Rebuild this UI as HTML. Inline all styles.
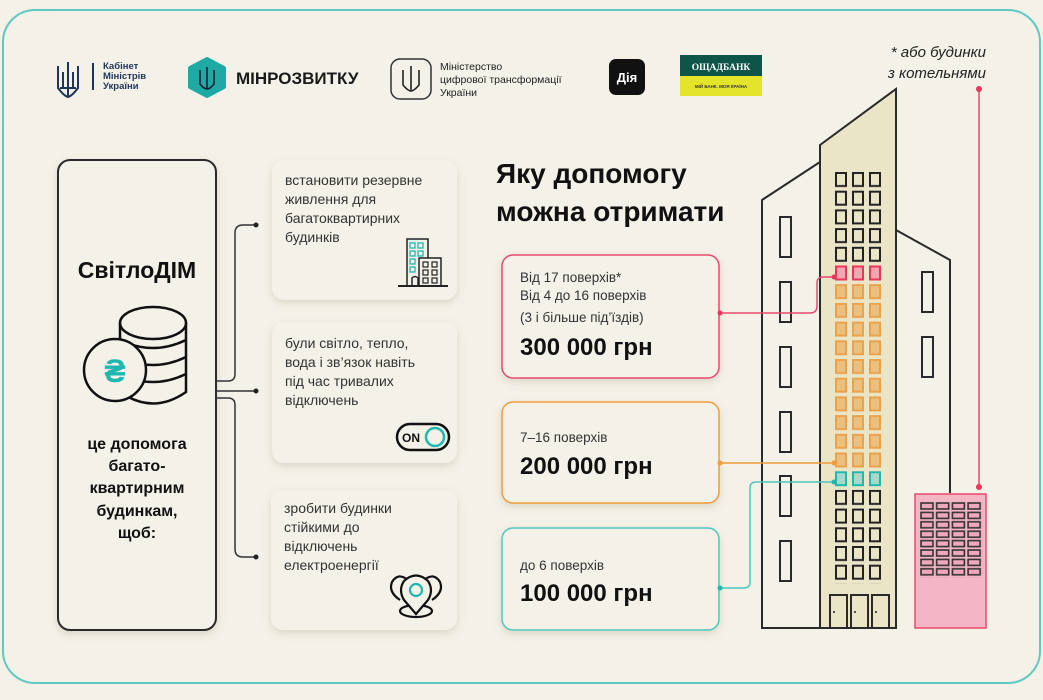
<!DOCTYPE html>
<html><head><meta charset="utf-8"><style>
html,body{margin:0;padding:0;background:#f4f1e8;}
svg{display:block;font-family:"Liberation Sans","DejaVu Sans",sans-serif;}
</style></head><body>
<svg width="1043" height="700" viewBox="0 0 1043 700" xmlns="http://www.w3.org/2000/svg">
<defs>
<filter id="sh" x="-20%" y="-20%" width="140%" height="140%"><feDropShadow dx="0" dy="3" stdDeviation="4" flood-color="#8a7f5a" flood-opacity="0.25"/></filter>
<pattern id="wb" patternUnits="userSpaceOnUse" x="835" y="172" width="17" height="18.7"><rect x="1" y="1" width="10" height="13" fill="none" stroke="#222" stroke-width="2"/></pattern>
<pattern id="wp" patternUnits="userSpaceOnUse" x="835" y="172" width="17" height="18.7"><rect x="1" y="1" width="10" height="13" fill="#f0a8b0" stroke="#e8365c" stroke-width="2"/></pattern>
<pattern id="wo" patternUnits="userSpaceOnUse" x="835" y="172" width="17" height="18.7"><rect x="1" y="1" width="10" height="13" fill="#e9c080" stroke="#eca24a" stroke-width="2"/></pattern>
<pattern id="wt" patternUnits="userSpaceOnUse" x="835" y="172" width="17" height="18.7"><rect x="1" y="1" width="10" height="13" fill="#a8d8c8" stroke="#1fb8b0" stroke-width="2"/></pattern>
<pattern id="wk" patternUnits="userSpaceOnUse" x="920" y="502" width="15.7" height="9.4"><rect x="1" y="1" width="12" height="6" fill="#f0a8bd" stroke="#333" stroke-width="1.6"/></pattern>
</defs>
<rect width="1043" height="700" fill="#f4f1e8"/>
<rect x="3" y="10" width="1037" height="673" rx="32" fill="none" stroke="#5fcac4" stroke-width="2"/>

<!-- logos -->
<g stroke="#1f3559" stroke-width="2" fill="none">
<path d="M58 66 L58 88 Q64 96 68 97 Q72 96 78 88 L78 66 M68 62 L68 97 M63 72 L63 88 M73 72 L73 88 M60 88 L76 88"/>
<line x1="93" y1="63" x2="93" y2="90"/>
</g>
<text x="103" y="69" font-size="9.5" font-weight="bold" fill="#1f3559">Кабінет</text>
<text x="103" y="79" font-size="9.5" font-weight="bold" fill="#1f3559">Міністрів</text>
<text x="103" y="89" font-size="9.5" font-weight="bold" fill="#1f3559">України</text>
<polygon points="207,59 224,68 224,87 207,96 190,87 190,68" fill="#1fa9a5" stroke="#1fa9a5" stroke-width="4" stroke-linejoin="round"/>
<path d="M200 70 L200 84 Q204 89 207 89 Q210 89 214 84 L214 70 M207 67 L207 89" stroke="#123" stroke-width="1.6" fill="none"/>
<text x="236" y="84" font-size="17" font-weight="bold" fill="#1a1a1a">МІНРОЗВИТКУ</text>
<rect x="391" y="59" width="40" height="40" rx="9" fill="none" stroke="#333" stroke-width="1.5"/>
<path d="M403 70 L403 85 Q408 91 411 91 Q414 91 419 85 L419 70 M411 66 L411 91" stroke="#222" stroke-width="1.6" fill="none"/>
<text x="440" y="70" font-size="10.5" fill="#222">Міністерство</text>
<text x="440" y="83" font-size="10.5" fill="#222">цифрової трансформації</text>
<text x="440" y="96" font-size="10.5" fill="#222">України</text>
<rect x="609" y="59" width="36" height="36" rx="7" fill="#111"/>
<text x="627" y="82" font-size="13" font-weight="bold" fill="#fff" text-anchor="middle">Дія</text>
<rect x="680" y="55" width="82" height="21" fill="#0d5548"/>
<rect x="680" y="76" width="82" height="20" fill="#e4e52a"/>
<text x="721" y="70" font-size="9.5" font-family="Liberation Serif,serif" font-weight="bold" fill="#fff" text-anchor="middle">ОЩАДБАНК</text>
<text x="721" y="88" font-size="4.5" font-weight="bold" fill="#333" text-anchor="middle">МІЙ БАНК. МОЯ КРАЇНА</text>

<!-- footnote -->
<text x="986" y="57" font-size="15" font-style="italic" fill="#222" text-anchor="end">* або будинки</text>
<text x="986" y="78" font-size="15" font-style="italic" fill="#222" text-anchor="end">з котельнями</text>

<!-- left box -->
<rect x="58" y="160" width="158" height="470" rx="12" fill="#f4f1e8" stroke="#2a2a2a" stroke-width="2" filter="url(#sh)"/>
<text x="137" y="278" font-size="23" font-weight="bold" fill="#111" text-anchor="middle">СвітлоДІМ</text>
<!-- coins -->
<g stroke="#111" stroke-width="2.5" fill="#f4f1e8">
<path d="M120 323 L120 392 Q153 415 186 392 L186 323"/>
<path d="M120 340 Q153 356 186 340 M120 357 Q153 373 186 357 M120 374 Q153 390 186 374"/>
<ellipse cx="153" cy="323" rx="33" ry="16"/>
<circle cx="115" cy="370" r="31"/>
</g>
<text x="115" y="382" font-size="32" font-weight="bold" fill="#1fb8b0" text-anchor="middle">₴</text>
<g font-size="16" font-weight="bold" fill="#111" text-anchor="middle">
<text x="137" y="449">це допомога</text>
<text x="137" y="471">багато-</text>
<text x="137" y="493">квартирним</text>
<text x="137" y="516">будинкам,</text>
<text x="137" y="538">щоб:</text>
</g>

<!-- bracket -->
<g stroke="#333" stroke-width="1.5" fill="none">
<path d="M216 381 L228 381 Q235 381 235 374 L235 233 Q235 225 243 225 L256 225"/>
<path d="M216 391 L256 391"/>
<path d="M216 398 L228 398 Q235 398 235 405 L235 549 Q235 557 243 557 L256 557"/>
</g>
<circle cx="256" cy="225" r="2.5" fill="#222"/><circle cx="256" cy="391" r="2.5" fill="#222"/><circle cx="256" cy="557" r="2.5" fill="#222"/>

<!-- cards -->
<g fill="#f4f1e8" filter="url(#sh)">
<rect x="272" y="160" width="185" height="140" rx="12"/>
<rect x="272" y="322" width="185" height="141" rx="12"/>
<rect x="271" y="490" width="186" height="140" rx="12"/>
</g>
<g font-size="14" fill="#333">
<text x="285" y="185">встановити резервне</text>
<text x="285" y="204">живлення для</text>
<text x="285" y="223">багатоквартирних</text>
<text x="285" y="242">будинків</text>
<text x="285" y="348">були світло, тепло,</text>
<text x="285" y="367">вода і зв’язок навіть</text>
<text x="285" y="386">під час тривалих</text>
<text x="285" y="405">відключень</text>
<text x="284" y="513">зробити будинки</text>
<text x="284" y="532">стійкими до</text>
<text x="284" y="551">відключень</text>
<text x="284" y="570">електроенергії</text>
</g>
<!-- building icon -->
<g stroke="#222" stroke-width="1.5" fill="none">
<rect x="407" y="239" width="21" height="47"/>
<rect x="419" y="258" width="22" height="28" fill="#f4f1e8"/>
<line x1="398" y1="286" x2="448" y2="286" stroke-width="2"/>
<path d="M412 286 L412 278 Q415 275 418 278 L418 286"/>
</g>
<g stroke="#1fb8b0" stroke-width="1.3" fill="none">
<rect x="410" y="243" width="5" height="5"/><rect x="418" y="243" width="5" height="5"/>
<rect x="410" y="251" width="5" height="5"/><rect x="418" y="251" width="5" height="5"/>
<rect x="410" y="259" width="5" height="5"/><rect x="410" y="267" width="5" height="5"/>
</g>
<g stroke="#222" stroke-width="1.2" fill="none">
<rect x="423" y="262" width="5" height="5"/><rect x="432" y="262" width="5" height="5"/>
<rect x="423" y="270" width="5" height="5"/><rect x="432" y="270" width="5" height="5"/>
<rect x="423" y="278" width="5" height="5"/><rect x="432" y="278" width="5" height="5"/>
</g>
<!-- toggle -->
<rect x="397" y="424" width="52" height="26" rx="13" fill="none" stroke="#111" stroke-width="2.5"/>
<text x="411" y="442" font-size="12" font-weight="bold" fill="#111" text-anchor="middle">ON</text>
<circle cx="435" cy="437" r="9" fill="none" stroke="#1fb8b0" stroke-width="2.5"/>
<!-- location icon -->
<g stroke="#111" stroke-width="2.2" fill="#f4f1e8">
<path d="M400 600 Q388 592 392 582 Q398 572 408 580"/>
<path d="M432 600 Q444 592 440 582 Q434 572 424 580"/>
<ellipse cx="416" cy="611" rx="16" ry="6"/>
<path d="M416 614 L404 600 Q398 590 404 581 Q416 570 428 581 Q434 590 428 600 Z"/>
</g>
<circle cx="416" cy="590" r="6" fill="none" stroke="#1fb8b0" stroke-width="2.2"/>

<!-- heading -->
<text x="496" y="183" font-size="28" font-weight="bold" fill="#111">Яку допомогу</text>
<text x="496" y="221" font-size="28" font-weight="bold" fill="#111">можна отримати</text>

<!-- price cards -->
<rect x="502" y="255" width="217" height="123" rx="11" fill="#f4f1e8" stroke="#e84a6e" stroke-width="1.5" filter="url(#sh)"/>
<rect x="502" y="402" width="217" height="101" rx="11" fill="#f4f1e8" stroke="#ee9c3c" stroke-width="1.5" filter="url(#sh)"/>
<rect x="502" y="528" width="217" height="102" rx="11" fill="#f4f1e8" stroke="#4fc6c0" stroke-width="1.5" filter="url(#sh)"/>
<g font-size="13.5" fill="#333">
<text x="520" y="282">Від 17 поверхів*</text>
<text x="520" y="300">Від 4 до 16 поверхів</text>
<text x="520" y="322">(3 і більше під’їздів)</text>
<text x="520" y="442">7–16 поверхів</text>
<text x="520" y="570">до 6 поверхів</text>
</g>
<g font-size="24" font-weight="bold" fill="#111">
<text x="520" y="355">300 000 грн</text>
<text x="520" y="474">200 000 грн</text>
<text x="520" y="601">100 000 грн</text>
</g>

<!-- buildings -->
<path d="M820 162 L762 200 L762 628 L820 628" fill="none" stroke="#2a2a2a" stroke-width="2"/>
<path d="M896 230 L950 260 L950 493" fill="none" stroke="#2a2a2a" stroke-width="2"/>
<path d="M820 145 L896 89 L896 628 L820 628 Z" fill="#ebe5c8" stroke="#2a2a2a" stroke-width="2"/>
<line x1="762" y1="628" x2="896" y2="628" stroke="#2a2a2a" stroke-width="2"/>
<g fill="none" stroke="#2a2a2a" stroke-width="2">
<rect x="780" y="217" width="11" height="40"/><rect x="780" y="282" width="11" height="40"/>
<rect x="780" y="347" width="11" height="40"/><rect x="780" y="412" width="11" height="40"/>
<rect x="780" y="476" width="11" height="40"/><rect x="780" y="541" width="11" height="40"/>
<rect x="922" y="272" width="11" height="40"/><rect x="922" y="337" width="11" height="40"/>
</g>
<rect x="835" y="172" width="51" height="93.5" fill="url(#wb)"/>
<rect x="835" y="265.5" width="51" height="18.7" fill="url(#wp)"/>
<rect x="835" y="284.2" width="51" height="187" fill="url(#wo)"/>
<rect x="835" y="471.2" width="51" height="18.7" fill="url(#wt)"/>
<rect x="835" y="489.9" width="51" height="93.5" fill="url(#wb)"/>
<g fill="none" stroke="#2a2a2a" stroke-width="2">
<rect x="830" y="595" width="17" height="33"/><rect x="851" y="595" width="17" height="33"/><rect x="872" y="595" width="17" height="33"/>
</g>
<circle cx="834" cy="612" r="1" fill="#222"/><circle cx="855" cy="612" r="1" fill="#222"/><circle cx="876" cy="612" r="1" fill="#222"/>
<!-- boiler -->
<rect x="915" y="494" width="71" height="134" fill="#f4b5c4" stroke="#e84a6e" stroke-width="1.5"/>
<rect x="920" y="502" width="62.8" height="75.2" fill="url(#wk)"/>
<line x1="979" y1="89" x2="979" y2="487" stroke="#e84a6e" stroke-width="1.5"/>
<circle cx="979" cy="89" r="3" fill="#e8365c"/><circle cx="979" cy="487" r="3" fill="#e8365c"/>

<!-- connectors -->
<path d="M720 313 L810 313 Q817 313 817 306 L817 283 Q817 277 823 277 L834 277" fill="none" stroke="#e84a6e" stroke-width="1.5"/>
<circle cx="720" cy="313" r="2.5" fill="#e8365c"/><circle cx="834" cy="277" r="2.5" fill="#e8365c"/>
<line x1="720" y1="463" x2="834" y2="463" stroke="#ee9c3c" stroke-width="1.5"/>
<circle cx="720" cy="463" r="2.5" fill="#ee9c3c"/><circle cx="834" cy="463" r="2.5" fill="#ee9c3c"/>
<path d="M720 588 L744 588 Q750 588 750 582 L750 488 Q750 482 756 482 L834 482" fill="none" stroke="#4fc6c0" stroke-width="1.5"/>
<circle cx="720" cy="588" r="2.5" fill="#1fb8b0"/><circle cx="834" cy="482" r="2.5" fill="#1fb8b0"/>
</svg>
</body></html>
